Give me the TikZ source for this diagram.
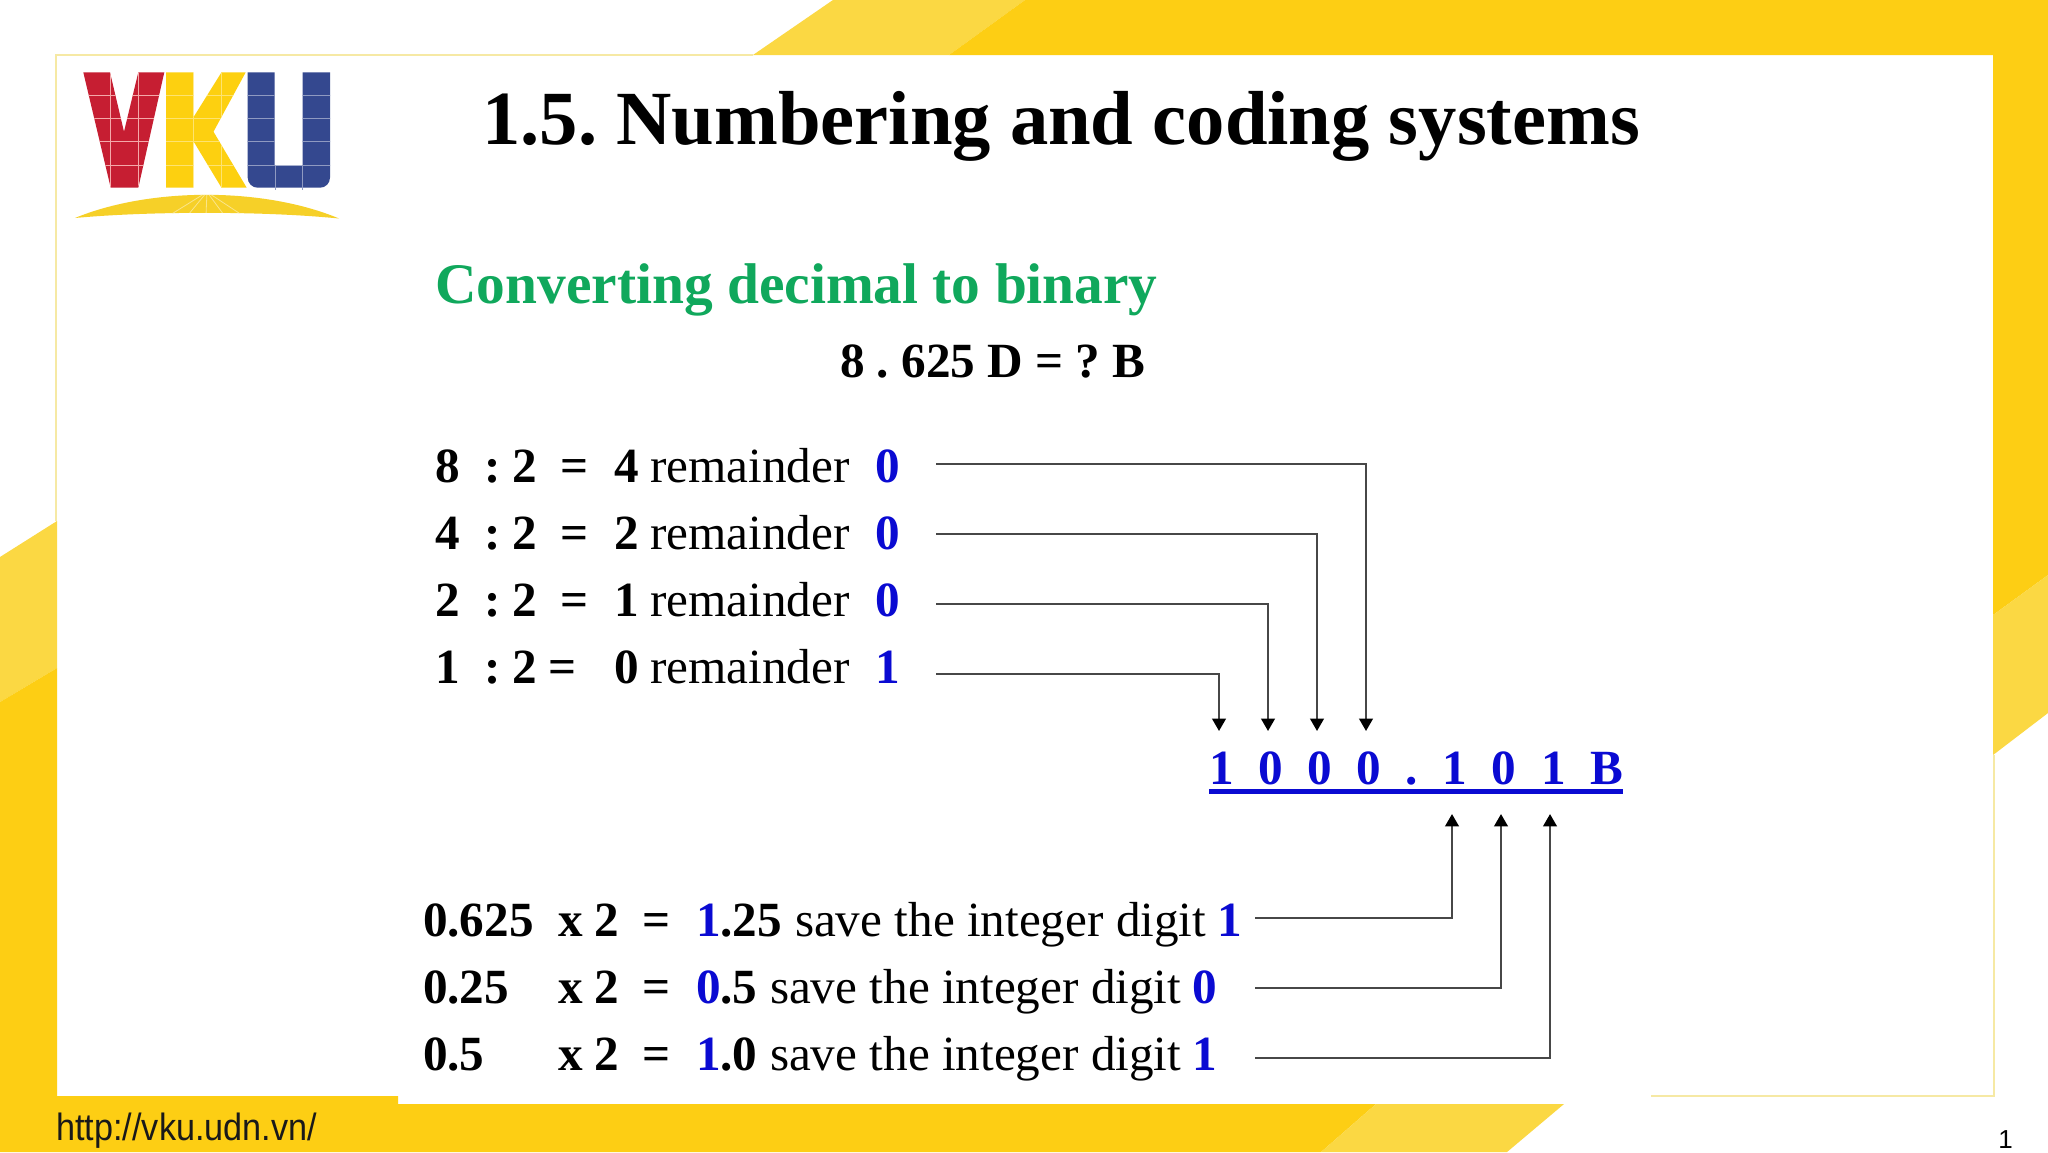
\documentclass[tikz,border=0pt]{standalone}
\usepackage{fontspec}
\setmainfont{Liberation Serif}
\newfontfamily\arialf{Liberation Sans}
\usetikzlibrary{arrows.meta}
\definecolor{ydark}{HTML}{FDCE14}
\definecolor{ylight}{HTML}{FBD843}
\definecolor{framey}{HTML}{F6E9A4}
\definecolor{vred}{HTML}{C61E32}
\definecolor{vyel}{HTML}{FDD010}
\definecolor{vblue}{HTML}{34488F}
\definecolor{vgrid}{HTML}{F4A9A9}
\definecolor{arcy}{HTML}{F6D028}
\definecolor{tgreen}{HTML}{10A85C}
\definecolor{tblue}{HTML}{0A0AD2}
\newcommand{\fs}[1]{\fontsize{#1pt}{#1pt}\selectfont}
\frenchspacing
\tikzset{
 txt/.style={anchor=base west,inner sep=0pt,outer sep=0pt,text=black,font=\fs{24.6}},
 bld/.style={txt,font=\fs{24.6}\bfseries},
 blu/.style={bld,text=tblue},
 conn/.style={line width=1.15pt,draw=black!72,-{Triangle[length=6.2pt,width=6.8pt,color=black,fill=black]}},
 gridl/.style={line width=.5pt,draw=#1},
}
\begin{document}
\begin{tikzpicture}[x=0.5pt,y=-0.5pt]
\useasboundingbox (0,0) rectangle (2048,1152);
\fill[white] (0,0) rectangle (2048,1152);
% yellow background bands
\fill[ylight] (753,55) -- (833,0) -- (1025,0) -- (949,55) -- cycle;
\fill[ydark] (949,55) -- (1025,0) -- (2048,0) -- (2048,575) -- (1993,615) -- (1993,55) -- cycle;
\fill[ylight] (1993,615) -- (2048,575) -- (2048,713) -- (1993,755) -- cycle;
\fill[ylight] (0,557) -- (57,521) -- (57,668) -- (0,702) -- cycle;
\fill[ydark] (0,702) -- (57,668) -- (57,1096) -- (398,1096) -- (398,1104) -- (1376,1104) -- (1321,1152) -- (0,1152) -- cycle;
\fill[ylight] (1376,1104) -- (1564,1104) -- (1507,1152) -- (1321,1152) -- cycle;
% thin frame
\draw[framey,line width=1pt] (753,55) -- (56,55) -- (56,521);
\draw[framey,line width=1pt] (1994,755) -- (1994,1096) -- (1651,1096);
% logo
\fill[vred] (83.3,72.3) -- (110,72.3) -- (124,131.7) -- (138.3,72.3) -- (164.3,72.3) -- (138.3,187.7) -- (110.7,187.7) -- cycle;
\begin{scope}
\clip (83.3,72.3) -- (110,72.3) -- (124,131.7) -- (138.3,72.3) -- (164.3,72.3) -- (138.3,187.7) -- (110.7,187.7) -- cycle;
\foreach \yy in {95,118.3,141.7,165} \draw[gridl=vgrid] (80,\yy) -- (170,\yy);
\foreach \xx in {110,138.3} \draw[gridl=vgrid] (\xx,70) -- (\xx,190);
\end{scope}
\fill[vyel] (166,72.3) -- (193.3,72.3) -- (193.3,117.5) -- (221.5,72.3) -- (245.7,72.3) -- (213.5,131.7) -- (246.7,187.7) -- (221.5,187.7) -- (193.3,141) -- (193.3,187.7) -- (166,187.7) -- cycle;
\begin{scope}
\clip (166,72.3) -- (193.3,72.3) -- (193.3,117.5) -- (221.5,72.3) -- (245.7,72.3) -- (213.5,131.7) -- (246.7,187.7) -- (221.5,187.7) -- (193.3,141) -- (193.3,187.7) -- (166,187.7) -- cycle;
\foreach \yy in {95,118.3,141.7,165} \draw[gridl=vyel!60!white] (160,\yy) -- (250,\yy);
\foreach \xx in {193.3,221} \draw[gridl=vyel!60!white] (\xx,70) -- (\xx,190);
\end{scope}
\fill[vblue] (247.7,72.3) -- (274.7,72.3) -- (274.7,165.7) -- (302.7,165.7) -- (302.7,72.3) -- (330,72.3) -- (330,177.7) arc[start angle=0,end angle=-90,x radius=10,y radius=-10] -- (257.7,187.7) arc[start angle=-90,end angle=-180,x radius=10,y radius=-10] -- cycle;
\begin{scope}
\clip (247.7,72.3) -- (274.7,72.3) -- (274.7,165.7) -- (302.7,165.7) -- (302.7,72.3) -- (330,72.3) -- (330,190) -- (247.7,190) -- cycle;
\foreach \yy in {95,118.3,141.7,165} \draw[gridl=vblue!55!white] (245,\yy) -- (332,\yy);
\draw[gridl=vblue!55!white] (275.7,165) -- (275.7,190);
\draw[gridl=vblue!55!white] (302.3,165) -- (302.3,190);
\end{scope}
\fill[arcy] (75,218) .. controls (150,187) and (264,187) .. (339,218.5) .. controls (264,211) and (150,211) .. cycle;
\begin{scope}
\clip (75,218) .. controls (150,187) and (264,187) .. (339,218.5) .. controls (264,211) and (150,211) .. cycle;
\foreach \xx in {170,188,206,224,242} \draw[line width=.4pt,draw=arcy!55!white] (207,192) -- (\xx,215);
\end{scope}
% title texts
\node[anchor=base west,inner sep=0pt,font=\fs{38.3}\bfseries] (title) at (482,144) {1.5. Numbering and coding systems};
\node[anchor=base west,inner sep=0pt,font=\fs{28.7}\bfseries,text=tgreen] (sub) at (435,303) {Converting decimal to binary};
\node[bld] (q) at (840,377) {8 . 625 D = ? B};
% division rows
\node[bld] (a1) at (435,482) {8};
\node[bld] (a2) at (435,549) {4};
\node[bld] (a3) at (435,616) {2};
\node[bld] (a4) at (435,683) {1};
\foreach \r/\yy in {1/482,2/549,3/616,4/683}{
 \node[bld] (c\r) at (484,\yy) {:};
 \node[bld] (d\r) at (512,\yy) {2};
 \node[txt] (m\r) at (650,\yy) {remainder};
}
\foreach \r/\yy in {1/482,2/549,3/616}{\node[bld] (e\r) at (560,\yy) {=};}
\node[bld] (e4) at (548,683) {=};
\node[bld] (q1) at (614,482) {4};
\node[bld] (q2) at (614,549) {2};
\node[bld] (q3) at (614,616) {1};
\node[bld] (q4) at (614,683) {0};
\node[blu] (r1) at (875,482) {0};
\node[blu] (r2) at (875,549) {0};
\node[blu] (r3) at (875,616) {0};
\node[blu] (r4) at (875,683) {1};
% multiplication rows
\node[bld] (f1) at (423,936) {0.625};
\node[bld] (f2) at (423,1003) {0.25};
\node[bld] (f3) at (423,1070) {0.5};
\foreach \r/\yy in {1/936,2/1003,3/1070}{
 \node[bld] (x\r) at (558,\yy) {x 2};
 \node[bld] (g\r) at (642,\yy) {=};
}
\node[bld] (h1) at (696,936) {\textcolor{tblue}{1}.25};
\node[bld] (h2) at (696,1003) {\textcolor{tblue}{0}.5};
\node[bld] (h3) at (696,1070) {\textcolor{tblue}{1}.0};
\node[txt] (s1) at (795,936) {save the integer digit};
\node[txt] (s2) at (770,1003) {save the integer digit};
\node[txt] (s3) at (770,1070) {save the integer digit};
\node[blu] (b1) at (1217,936) {1};
\node[blu] (b2) at (1192,1003) {0};
\node[blu] (b3) at (1192,1070) {1};
% result
\node[blu] (res) at (1209,784) {1\ \ 0\ \ 0\ \ 0\ \ .\ \ 1\ \ 0\ \ 1\ \ B};
\draw[tblue,line width=2.3pt] ([yshift=-3.7pt]res.base west) -- ([yshift=-3.7pt]res.base east);
% connector ends
\coordinate (u1) at (936,464); \coordinate (t1) at (1366,731);
\coordinate (u2) at (936,534); \coordinate (t2) at (1317,731);
\coordinate (u3) at (936,604); \coordinate (t3) at (1268,731);
\coordinate (u4) at (936,674); \coordinate (t4) at (1219,731);
\coordinate (v1) at (1255,918); \coordinate (w1) at (1452,814);
\coordinate (v2) at (1255,988); \coordinate (w2) at (1501,814);
\coordinate (v3) at (1255,1058); \coordinate (w3) at (1550,814);
\foreach \k in {1,2,3,4} \draw[conn] (u\k) -| (t\k);
\foreach \k in {1,2,3} \draw[conn] (v\k) -| (w\k);
% footer
\node[anchor=base west,inner sep=0pt,font=\arialf\fs{19},xscale=.9,text=black!90] (url) at (56,1140) {http://vku.udn.vn/};
\node[anchor=base west,inner sep=0pt,font=\arialf\fs{13},text=black] (pg) at (1998,1148) {1};
\end{tikzpicture}
\end{document}
